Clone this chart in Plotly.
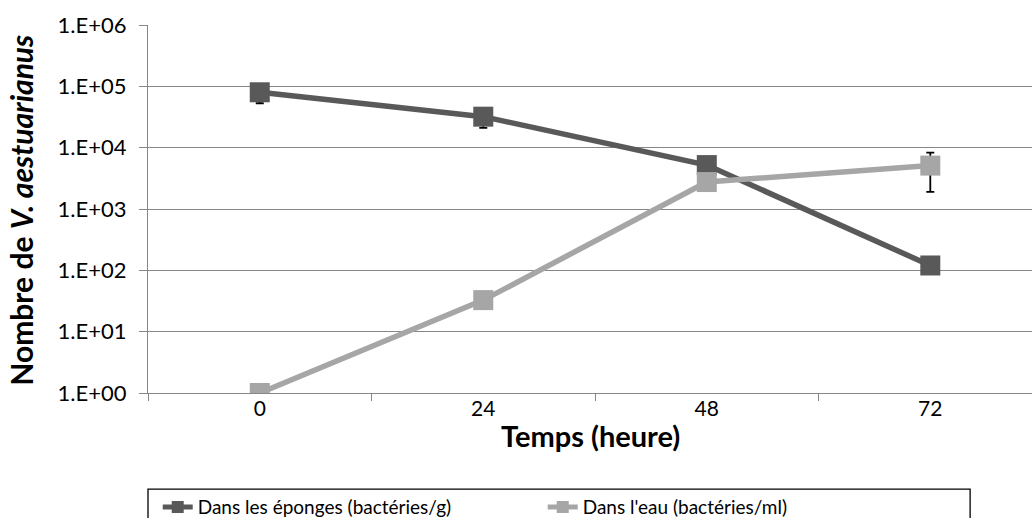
import plotly.graph_objects as go

# Sampling times (hours) and V. aestuarianus counts
hours = ["0", "24", "48", "72"]
sponge_counts = [8.0e4, 3.2e4, 5.2e3, 1.2e2]
sponge_err = [2.7e4, 1.1e4, 0, 0]
water_counts = [1.0, 32.7, 2.75e3, 5.1e3]
water_err = [0, 0, 0, 3.2e3]

y_tickvals = [1, 1e1, 1e2, 1e3, 1e4, 1e5, 1e6]
y_ticktext = ["1.E+00", "1.E+01", "1.E+02", "1.E+03", "1.E+04", "1.E+05", "1.E+06"]

FONT = "Lato, 'Open Sans', sans-serif"
GRID = "#868686"
DARK = "#595959"
LIGHT = "#a6a6a6"

fig = go.Figure()

fig.add_trace(go.Scatter(
    x=hours, y=sponge_counts, name="Dans les éponges (bactéries/g)",
    mode="lines+markers",
    line=dict(color=DARK, width=5.5),
    marker=dict(symbol="square", size=20, color=DARK),
    error_y=dict(type="data", array=sponge_err, symmetric=True,
                 color="black", thickness=1.8, width=4),
))
fig.add_trace(go.Scatter(
    x=hours, y=water_counts, name="Dans l'eau (bactéries/ml)",
    mode="lines+markers",
    line=dict(color=LIGHT, width=5.5),
    marker=dict(symbol="square", size=20, color=LIGHT),
    error_y=dict(type="data", array=water_err, symmetric=True,
                 color="black", thickness=1.8, width=4),
))

# Legend frame
fig.add_shape(type="rect", xref="paper", yref="paper",
              x0=0.0, x1=0.93, y0=-0.42, y1=-0.261,
              line=dict(color="black", width=1.3), fillcolor="rgba(0,0,0,0)")

fig.add_annotation(text="<b>Temps (heure)</b>", xref="paper", yref="paper",
                   x=0.5, y=-0.115, xanchor="center", yanchor="middle",
                   showarrow=False, font=dict(family=FONT, size=29, color="black"))
fig.add_annotation(text="<b>Nombre de <i>V. aestuarianus</i></b>", xref="paper", yref="paper",
                   x=-0.143, y=0.497, xanchor="center", yanchor="middle", textangle=-90,
                   showarrow=False, font=dict(family=FONT, size=30, color="black"))

fig.update_layout(
    width=1032, height=518,
    margin=dict(l=148, r=0, t=25, b=125),
    plot_bgcolor="white", paper_bgcolor="white",
    font=dict(family=FONT, size=18, color="black"),
    showlegend=True,
    legend=dict(orientation="h", xref="paper", x=0.011, xanchor="left",
                yref="container", y=0.021, yanchor="middle",
                font=dict(family=FONT, size=19, color="black"),
                entrywidth=340, bgcolor="rgba(0,0,0,0)", itemsizing="constant"),
    xaxis=dict(type="category", range=[-0.5, 3.455], tickson="boundaries",
               ticks="outside", ticklen=7, tickcolor=GRID, tickwidth=1.3,
               showgrid=False, showline=True, linecolor=GRID, linewidth=1.3,
               zeroline=False, tickfont=dict(family=FONT, size=21, color="black"),
               ticklabelstandoff=-3),
    yaxis=dict(type="log", range=[0, 6], tickvals=y_tickvals, ticktext=y_ticktext,
               ticks="outside", ticklen=8, tickcolor=GRID, tickwidth=1.3,
               showgrid=True, gridcolor=GRID, gridwidth=1.3,
               showline=True, linecolor=GRID, linewidth=1.3,
               zeroline=False, tickfont=dict(family=FONT, size=22, color="black"),
               ticklabelstandoff=8),
)

fig.write_html("out.html")
